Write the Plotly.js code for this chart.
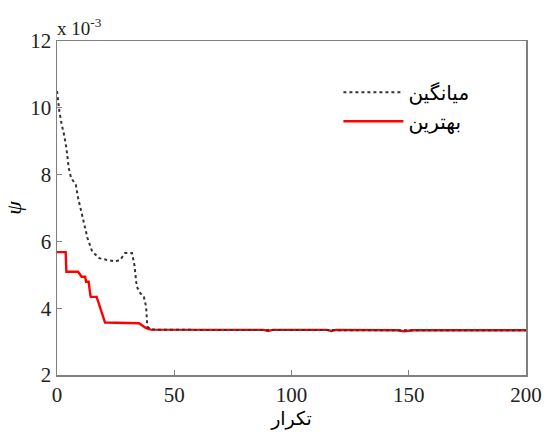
<!DOCTYPE html>
<html>
<head>
<meta charset="utf-8">
<script src="https://cdn.plot.ly/plotly-3.0.1.min.js"></script>
<style>html,body{margin:0;padding:0;background:#fff;}#chart{width:549px;height:432px;}</style>
</head>
<body>
<div id="chart"></div>
<script>
// Values in units of 1e-3
const meanIter = [0, 0.5, 1, 2, 3, 4, 5, 6, 8, 9, 11, 13, 15, 18, 21, 25, 27, 29, 32, 33, 34, 35.5, 37, 38, 38.5, 40, 60, 100, 150, 200];
const meanVal  = [10.5, 10.2, 9.9, 9.5, 9.2, 8.8, 8.2, 7.9, 7.7, 7.3, 6.7, 6.1, 5.7, 5.5, 5.45, 5.4, 5.45, 5.65, 5.65, 5.3, 4.65, 4.45, 4.35, 4.05, 3.45, 3.36, 3.35, 3.34, 3.34, 3.34];

const bestIter = [0, 3.7, 4, 9, 10.5, 12, 12.4, 13.5, 14.2, 14.4, 16.9, 18.3, 19.8, 20.5, 35, 38, 40, 60, 88, 90, 92, 115, 117, 119, 145, 148, 152, 200];
const bestVal  = [5.68, 5.68, 5.09, 5.09, 4.94, 4.94, 4.79, 4.79, 4.4, 4.34, 4.34, 4.04, 3.65, 3.57, 3.55, 3.4, 3.36, 3.35, 3.35, 3.32, 3.35, 3.35, 3.32, 3.35, 3.34, 3.31, 3.34, 3.34];

const xTicks = [0, 50, 100, 150, 200];
const yTicks = [2, 4, 6, 8, 10, 12];

const labelMean = 'میانگین';
const labelBest = 'بهترین';
const xTitle = 'تکرار';
const yTitle = 'ψ';
const exponentText = 'x 10<sup>-3</sup>';

const serif = "Times New Roman, Liberation Serif, DejaVu Serif, serif";
const persian = "DejaVu Sans";

const traces = [
  {x: bestIter, y: bestVal, mode: 'lines', name: labelBest, legendrank: 2,
   line: {color: '#ff0000', width: 2.4, shape: 'linear'}},
  {x: meanIter, y: meanVal, mode: 'lines', name: labelMean, legendrank: 1,
   line: {color: '#333333', width: 2, dash: 'dot'}}
];

const layout = {
  width: 549, height: 432,
  margin: {l: 57, r: 23, t: 41, b: 57},
  paper_bgcolor: '#fff', plot_bgcolor: '#fff',
  font: {family: serif, size: 20, color: '#222'},
  showlegend: true,
  legend: {x: 0.6, y: 0.905, xanchor: 'left', yanchor: 'top', bgcolor: 'rgba(0,0,0,0)',
           font: {family: persian, size: 20, color: '#000'}, tracegroupgap: 0, itemwidth: 60},
  xaxis: {range: [0, 200], tickvals: xTicks, ticks: 'inside', ticklen: 5, tickcolor: '#808080',
          showline: true, mirror: true, linecolor: '#808080', linewidth: 1.5, showgrid: false, zeroline: false,
          tickfont: {family: serif, size: 21, color: '#222'},
          title: {text: xTitle, font: {family: persian, size: 19, color: '#000'}, standoff: 4}},
  yaxis: {range: [2, 12], tickvals: yTicks, ticks: 'inside', ticklen: 5, tickcolor: '#808080',
          showline: true, mirror: true, linecolor: '#808080', linewidth: 1.5, showgrid: false, zeroline: false,
          tickfont: {family: serif, size: 21, color: '#222'},
          title: {text: yTitle, font: {family: serif, size: 22, color: '#000', style: 'italic'}, standoff: 2}},
  annotations: [
    {text: exponentText, xref: 'paper', yref: 'paper', x: -0.005, y: 1.0, xanchor: 'left', yanchor: 'bottom',
     showarrow: false, font: {family: serif, size: 19, color: '#222'}}
  ]
};

Plotly.newPlot('chart', traces, layout, {displayModeBar: false, staticPlot: true});
</script>
</body>
</html>
